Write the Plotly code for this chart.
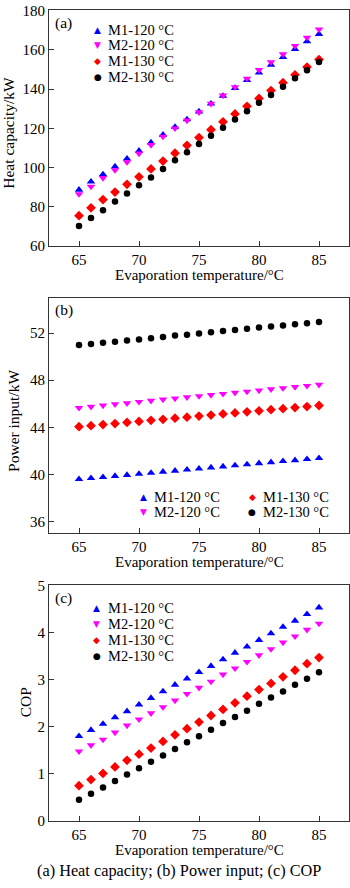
import plotly.graph_objects as go

# ---------------- data ----------------
evap_temp = [65, 66, 67, 68, 69, 70, 71, 72, 73, 74, 75, 76, 77, 78, 79, 80, 81, 82, 83, 84, 85]
series_names = ["M1-120 °C", "M2-120 °C", "M1-130 °C", "M2-130 °C"]

heat_m1_120 = [88.7, 92.8, 96.5, 100.5, 104.5, 108.5, 112.7, 116.7, 120.7, 124.5, 128.5, 132.5, 136.5, 140.5, 144.5, 148.3, 152.3, 156.3, 160.3, 164.2, 168.0]
heat_m2_120 = [86.5, 90.3, 94.7, 98.7, 102.8, 107.2, 111.5, 115.8, 120.0, 124.0, 128.2, 132.5, 136.7, 141.0, 145.3, 149.7, 153.7, 157.7, 162.0, 166.2, 170.3]
heat_m1_130 = [75.5, 79.5, 83.7, 87.5, 91.5, 95.3, 99.3, 103.3, 107.3, 111.3, 115.3, 119.3, 123.3, 127.3, 131.2, 135.2, 139.2, 143.2, 147.2, 151.2, 155.0]
heat_m2_130 = [70.2, 74.3, 78.3, 82.7, 86.8, 91.0, 95.0, 99.3, 103.7, 107.8, 112.0, 116.2, 120.3, 124.5, 128.7, 133.0, 137.0, 141.2, 145.5, 149.5, 153.7]

power_m1_120 = [39.60, 39.68, 39.77, 39.86, 39.95, 40.04, 40.13, 40.22, 40.31, 40.40, 40.49, 40.58, 40.67, 40.76, 40.85, 40.94, 41.03, 41.12, 41.20, 41.29, 41.38]
power_m2_120 = [45.65, 45.75, 45.85, 45.96, 46.05, 46.16, 46.26, 46.36, 46.45, 46.55, 46.65, 46.75, 46.84, 46.94, 47.03, 47.13, 47.23, 47.33, 47.42, 47.52, 47.62]
power_m1_130 = [44.05, 44.14, 44.23, 44.32, 44.41, 44.50, 44.59, 44.68, 44.77, 44.86, 44.95, 45.04, 45.13, 45.22, 45.31, 45.40, 45.49, 45.58, 45.67, 45.76, 45.85]
power_m2_130 = [50.98, 51.06, 51.17, 51.26, 51.37, 51.45, 51.56, 51.67, 51.78, 51.86, 51.97, 52.06, 52.17, 52.25, 52.36, 52.47, 52.55, 52.63, 52.74, 52.83, 52.94]

cop_m1_120 = [1.80, 1.93, 2.06, 2.20, 2.33, 2.47, 2.61, 2.75, 2.89, 3.02, 3.16, 3.29, 3.43, 3.57, 3.70, 3.84, 3.98, 4.12, 4.25, 4.39, 4.53]
cop_m2_120 = [1.48, 1.61, 1.73, 1.88, 2.03, 2.16, 2.29, 2.42, 2.56, 2.70, 2.83, 2.96, 3.11, 3.24, 3.38, 3.52, 3.65, 3.79, 3.92, 4.06, 4.19]
cop_m1_130 = [0.75, 0.88, 1.01, 1.15, 1.29, 1.42, 1.55, 1.69, 1.83, 1.96, 2.10, 2.24, 2.37, 2.51, 2.65, 2.79, 2.92, 3.06, 3.20, 3.34, 3.47]
cop_m2_130 = [0.45, 0.58, 0.71, 0.85, 0.99, 1.12, 1.26, 1.39, 1.53, 1.67, 1.80, 1.94, 2.08, 2.21, 2.34, 2.49, 2.62, 2.75, 2.89, 3.02, 3.16]

x_title = "Evaporation temperature/°C"
y_titles = ["Heat capacity/kW", "Power input/kW", "COP"]
panel_labels = ["(a)", "(b)", "(c)"]
caption = "(a) Heat capacity; (b) Power input; (c) COP"
x_ticks = [65, 70, 75, 80, 85]
y_ticks = [[60, 80, 100, 120, 140, 160, 180], [36, 40, 44, 48, 52], [0, 1, 2, 3, 4, 5]]
y_ranges = [[60, 180], [35, 55], [0, 5]]

# ---------------- styles ----------------
W, H = 350, 888
L, R = 49, 349
colors = ["#0000ff", "#ff00ff", "#ff0000", "#000000"]
symbols = ["triangle-up", "triangle-down", "diamond", "circle"]
sizes = [7.5, 7.5, 7.5, 6.5]
glyphs = ["▲", "▼", "◆", "●"]
FONT = "Liberation Serif"
TXT = 15.5
LEG = 14.5

panels = [
    [heat_m1_120, heat_m2_120, heat_m1_130, heat_m2_130],
    [power_m1_120, power_m2_120, power_m1_130, power_m2_130],
    [cop_m1_120, cop_m2_120, cop_m1_130, cop_m2_130],
]
frames_px = [(2.5, 242.5), (295, 535), (588, 828)]   # top, bottom (pixels)
xtitle_py = [272, 564.5, 857]
ytitle_px = [(8.5, 127.5), (13.5, 421), (25, 707)]


def px_x(px):
    return (px - L) / (R - L)


def px_y(py):
    return 1 - py / H


fig = go.Figure()
annotations = []

for p, data in enumerate(panels):
    ax = "" if p == 0 else str(p + 1)
    for s in range(4):
        fig.add_trace(go.Scatter(
            x=evap_temp, y=data[s], mode="markers", name=series_names[s],
            xaxis="x" + ax, yaxis="y" + ax, showlegend=False,
            marker=dict(symbol=symbols[s], size=sizes[s], color=colors[s], line=dict(width=0)),
        ))
    top, bot = frames_px[p]
    common = dict(showline=True, linecolor="#333333", linewidth=1, mirror=True,
                  ticks="inside", ticklen=5, tickcolor="#333333", showgrid=False,
                  zeroline=False, tickfont=dict(family=FONT, size=15, color="black"))
    fig.layout["xaxis" + ax] = dict(domain=[0, 1], range=[62.5, 87.5], tickvals=x_ticks,
                                    anchor="y" + ax, **common)
    fig.layout["yaxis" + ax] = dict(domain=[px_y(bot), px_y(top)], range=y_ranges[p],
                                    tickvals=y_ticks[p], anchor="x" + ax, **common)
    # axis titles
    annotations.append(dict(xref="paper", yref="paper", x=px_x(199), y=px_y(xtitle_py[p]),
                            xanchor="center", yanchor="middle", showarrow=False,
                            text=x_title, font=dict(family=FONT, size=15, color="black")))
    tx, ty = ytitle_px[p]
    annotations.append(dict(xref="paper", yref="paper", x=px_x(tx), y=px_y(ty),
                            xanchor="center", yanchor="middle", showarrow=False, textangle=-90,
                            text=y_titles[p], font=dict(family=FONT, size=TXT, color="black")))
    # panel label
    annotations.append(dict(xref="paper", yref="paper", x=px_x(53), y=px_y(top + 13),
                            xanchor="left", yanchor="middle", showarrow=False,
                            text=panel_labels[p], font=dict(family=FONT, size=TXT, color="black")))

# legends (custom, as in the reference)
legend_layout = {
    0: [(97.7, 106.7, 22.0), (97.7, 106.7, 38.1), (97.7, 106.7, 54.2), (97.7, 106.7, 70.3)],
    1: [(143.5, 153, 497.5), (143.5, 153, 513.6), (252, 261.5, 497.5), (252, 261.5, 513.6)],
    2: [(96.7, 107, 611.5), (96.7, 107, 627.6), (96.7, 107, 643.7), (96.7, 107, 659.8)],
}
for p, rows in legend_layout.items():
    for s, (gx, tx, ty) in enumerate(rows):
        annotations.append(dict(xref="paper", yref="paper", x=px_x(gx), y=px_y(ty),
                                xanchor="center", yanchor="middle", showarrow=False,
                                height=12, borderpad=0,
                                text=glyphs[s], font=dict(family="DejaVu Sans", size=9, color=colors[s])))
        annotations.append(dict(xref="paper", yref="paper", x=px_x(tx), y=px_y(ty),
                                xanchor="left", yanchor="middle", showarrow=False,
                                borderpad=0,
                                text=series_names[s], font=dict(family=FONT, size=LEG, color="black")))

annotations.append(dict(xref="paper", yref="paper", x=px_x(178.5), y=px_y(878),
                        xanchor="center", yanchor="middle", showarrow=False,
                        text=caption, font=dict(family=FONT, size=16.3, color="black")))

fig.update_layout(
    width=W, height=H, margin=dict(l=L, r=W - R, t=0, b=0),
    paper_bgcolor="white", plot_bgcolor="white",
    showlegend=False, annotations=annotations,
    font=dict(family=FONT, color="black"),
)

fig.write_html("out.html")
